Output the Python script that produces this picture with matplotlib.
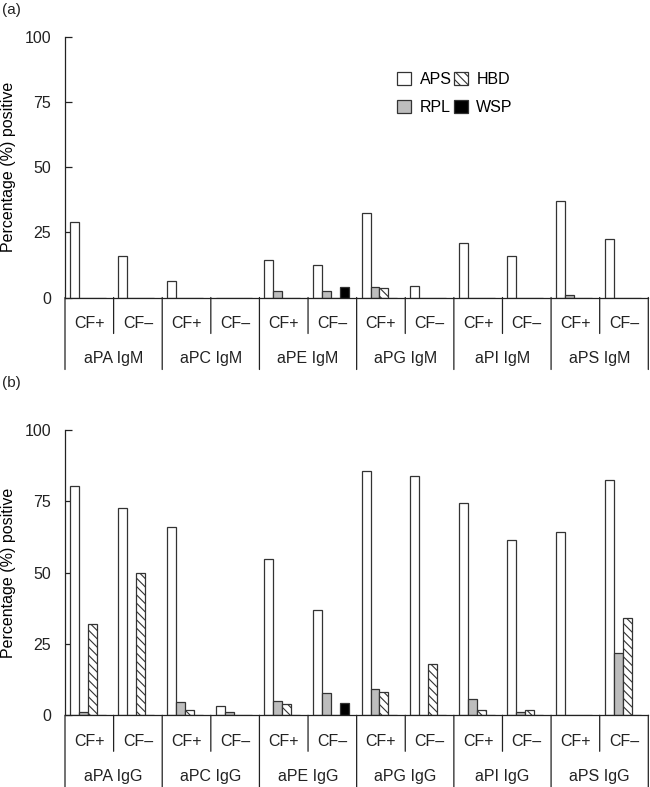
#Grouped bar chart of antiphospholipid antibody positivity (IgM / IgG)

import numpy as np
import matplotlib
matplotlib.use("Agg")
import matplotlib.pyplot as plt
from matplotlib.patches import Patch
import matplotlib.transforms as mtransforms

plt.rcParams['font.family'] = ['Liberation Sans', 'DejaVu Sans']
plt.rcParams['hatch.linewidth'] = 0.8

#data
series = ["APS", "RPL", "HBD", "WSP"]
subgroups = ["CF+", "CF\u2013"]
antigens = ["aPA", "aPC", "aPE", "aPG", "aPI", "aPS"]

igm_aps = [29, 16, 6.3, 0, 14.5, 12.6, 32.3, 4.6, 21, 15.8, 37, 22.5]
igm_rpl = [0, 0, 0, 0, 2.4, 2.4, 4.2, 0, 0, 0, 0.9, 0]
igm_hbd = [0, 0, 0, 0, 0, 0, 3.6, 0, 0, 0, 0, 0]
igm_wsp = [0, 0, 0, 0, 0, 4, 0, 0, 0, 0, 0, 0]

igg_aps = [80.5, 72.6, 66, 3.2, 54.7, 37, 85.6, 84, 74.3, 61.3, 64.4, 82.4]
igg_rpl = [1, 0, 4.8, 1, 5, 7.7, 9.1, 0, 5.8, 1, 0, 21.8]
igg_hbd = [32.1, 50, 2, 0, 4, 0, 8, 18, 2, 2, 0, 34]
igg_wsp = [0, 0, 0, 0, 0, 4.2, 0, 0, 0, 0, 0, 0]

yticks = [0, 25, 50, 75, 100]

#styles for the four series
faces = ["white", "#bdbdbd", "white", "black"]
hatches = [None, None, "\\\\\\\\", None]
edge = "#333333"
ink = "#222222"

W, H = 650, 787
fig = plt.figure(figsize=(W/100, H/100), dpi=100)

def px_ax(left, right, top, bottom):
    return fig.add_axes([left/W, 1-bottom/H, (right-left)/W, (bottom-top)/H])

def draw_panel(ax, data, ig, label):
    x = np.arange(12)
    bw = 0.185
    for k, vals in enumerate(data):
        ax.bar(x+0.1+k*bw, vals, width=bw, align="edge", color=faces[k],
               edgecolor=edge, linewidth=0.9, hatch=hatches[k], zorder=2)
    ax.set_xlim(0, 12)
    ax.set_ylim(0, 100)
    ax.set_yticks(yticks)
    ax.tick_params(axis="y", direction="in", length=5, width=0.9, pad=10,
                   labelsize=11.5, colors=ink)
    ax.set_xticks([])
    for s in ["top", "right"]:
        ax.spines[s].set_visible(False)
    for s in ["left", "bottom"]:
        ax.spines[s].set_linewidth(0.9)
        ax.spines[s].set_color(ink)
    ax.set_ylabel("Percentage (%) positive", fontsize=11.5, labelpad=6)

    #table below the axis, offsets in pixels
    base = mtransforms.blended_transform_factory(ax.transData, ax.transAxes)
    def tr(dy):
        return base + mtransforms.ScaledTranslation(0, -dy/100, fig.dpi_scale_trans)
    def vline(xv, depth):
        ax.annotate("", xy=(xv, 0), xycoords=tr(depth), xytext=(xv, 0), textcoords=tr(0),
                    arrowprops=dict(arrowstyle="-", color=ink, lw=0.9, shrinkA=0, shrinkB=0))
    for g in range(7):
        vline(2*g, 72)
    for g in range(6):
        vline(2*g+1, 36)
        for j, sg in enumerate(subgroups):
            ax.text(2*g+j+0.5, 0, sg, transform=tr(26), ha="center", va="center",
                    fontsize=11.5, color=ink)
        ax.text(2*g+1, 0, antigens[g]+" "+ig, transform=tr(61), ha="center",
                va="center", fontsize=11.5, color=ink)
    fig.text(2/W, 1-label/H, "(a)" if ig == "IgM" else "(b)", fontsize=11,
             va="center", ha="left", color=ink)

ax1 = px_ax(65, 648.3, 37, 297.5)
draw_panel(ax1, [igm_aps, igm_rpl, igm_hbd, igm_wsp], "IgM", 10)

handles = [Patch(facecolor=faces[k], edgecolor=edge, linewidth=0.9, hatch=hatches[k])
           for k in range(4)]
ax1.legend(handles, series, ncol=2, frameon=False, loc="upper left",
           bbox_to_anchor=(0.545, 0.922), handlelength=0.85, handleheight=0.85,
           handletextpad=0.55, columnspacing=0.15, labelspacing=0.85,
           fontsize=11.5)

ax2 = px_ax(65, 648.3, 430, 715.3)
draw_panel(ax2, [igg_aps, igg_rpl, igg_hbd, igg_wsp], "IgG", 383)

fig.savefig("out.png", dpi=100)
